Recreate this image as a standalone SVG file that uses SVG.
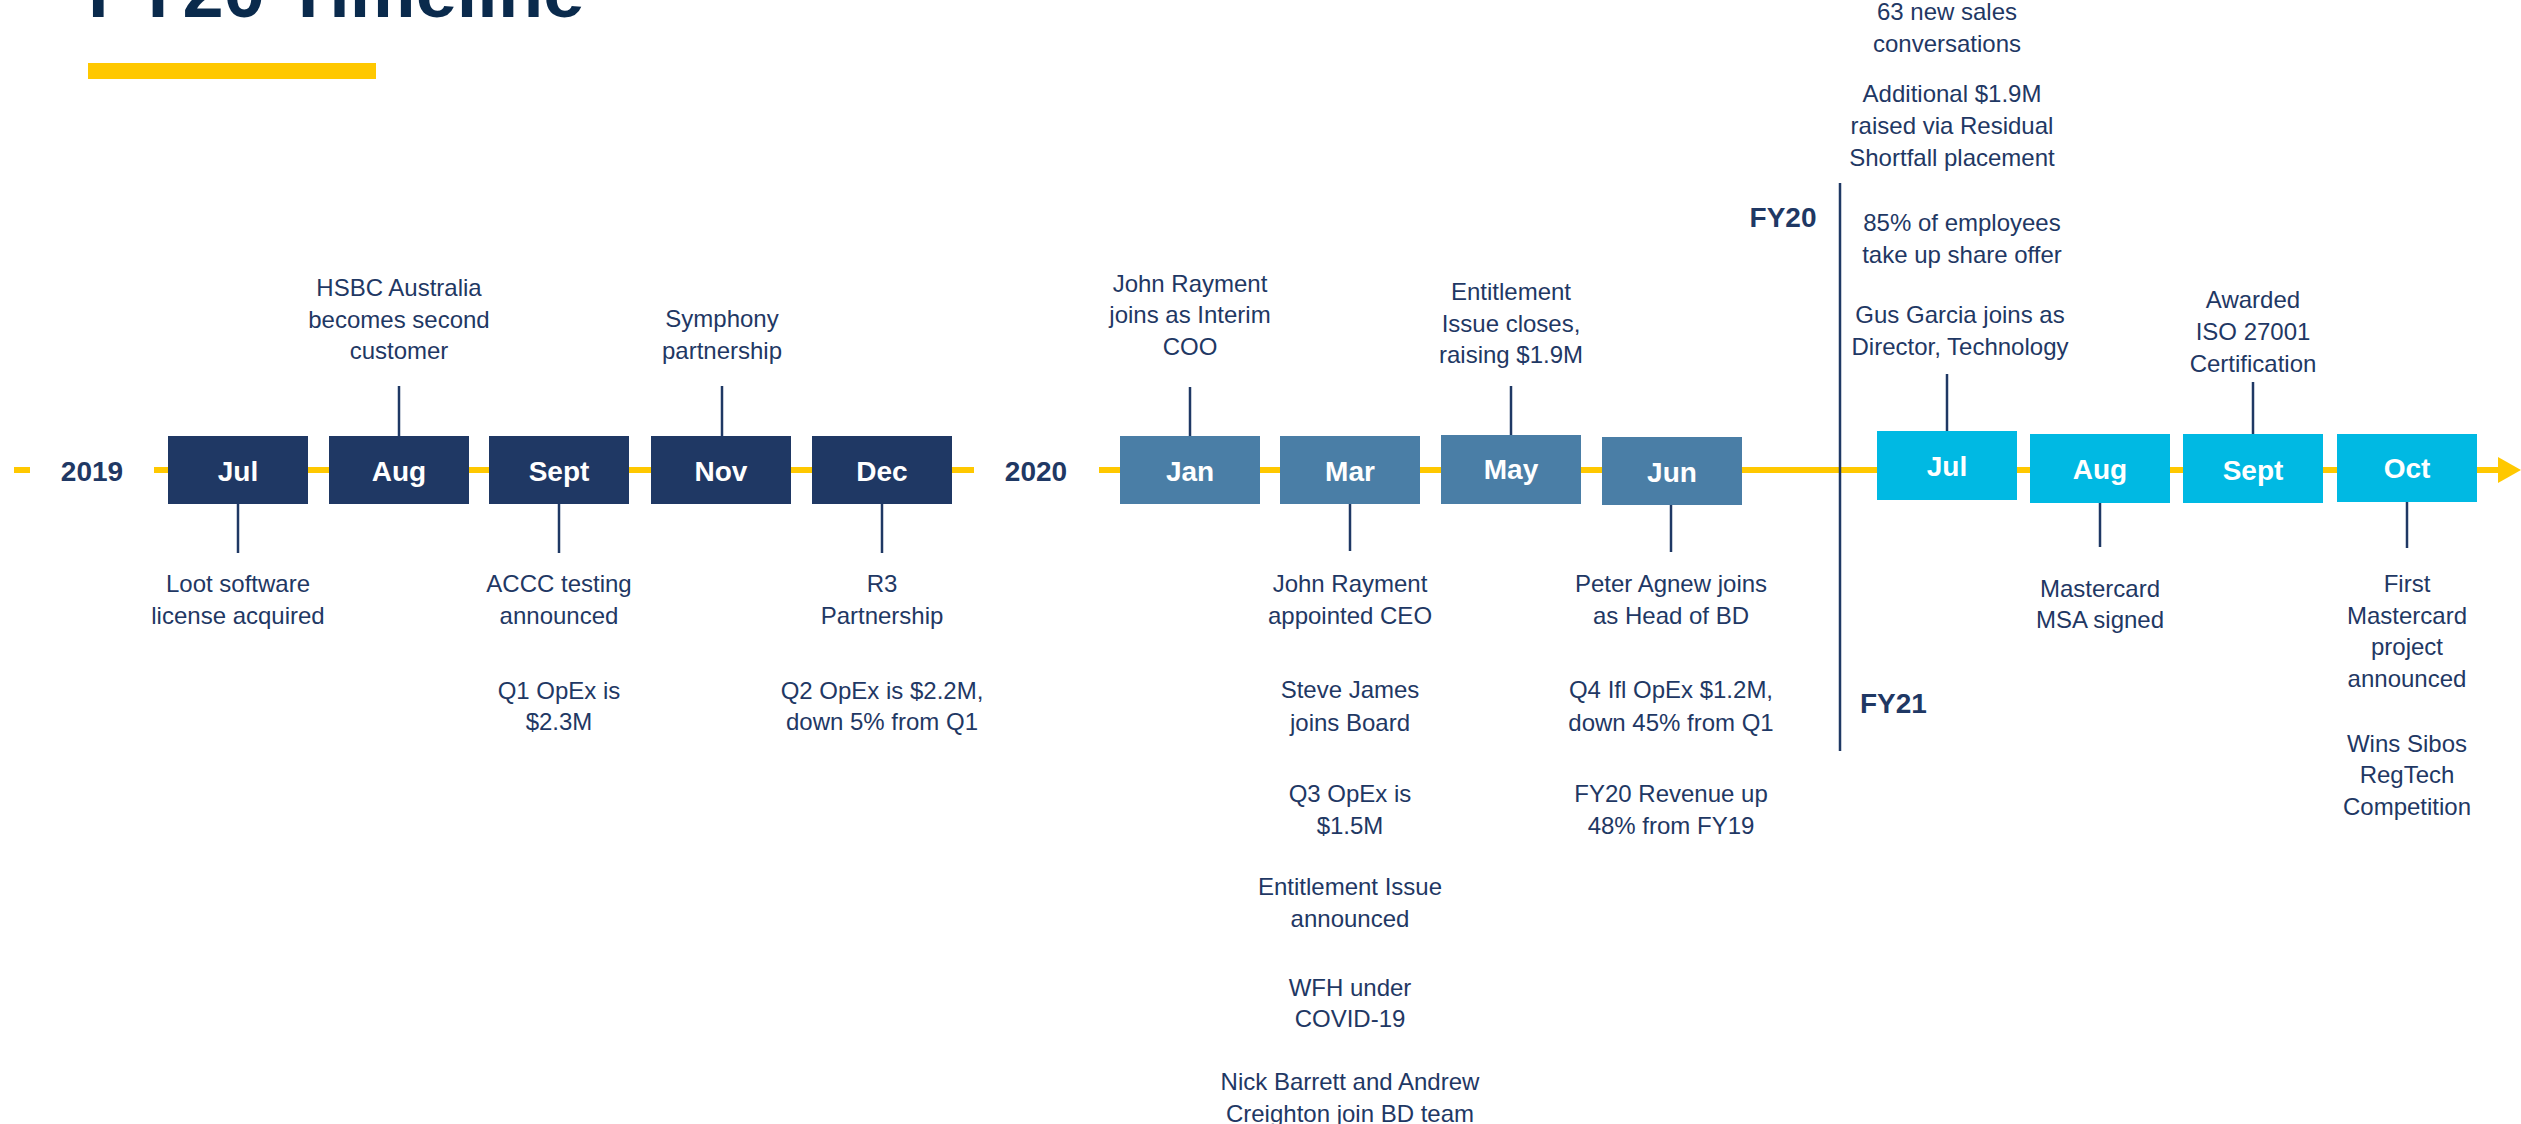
<svg xmlns="http://www.w3.org/2000/svg" width="2521" height="1124" viewBox="0 0 2521 1124">
<style>
.lbl{font-family:"Liberation Sans",Arial,sans-serif;font-size:24px;fill:#1F3864;text-anchor:middle}
.mon{font-family:"Liberation Sans",Arial,sans-serif;font-weight:bold;font-size:28px;fill:#FFFFFF;text-anchor:middle}
.yr{font-family:"Liberation Sans",Arial,sans-serif;font-weight:bold;font-size:28px;fill:#1F3864}
.b19{fill:#1F3864}
.b20{fill:#4A7EA6}
.b21{fill:#00B9E3}
.tick{stroke:#1F3864;stroke-width:2.5;fill:none}
.axis{stroke:#FFC800;stroke-width:6;fill:none}
</style>
<rect width="2521" height="1124" fill="#FFFFFF"/>
<g id="title">
<text x="88" y="17" font-family="'Liberation Sans',Arial,sans-serif" font-weight="bold" font-size="74" fill="#0A2A4C">FY20 Timeline</text>
<rect x="88" y="63" width="288" height="16" fill="#FFC800"/>
</g>
<g id="connectors">
<line class="axis" x1="14" y1="470" x2="30" y2="470"/>
<line class="axis" x1="154" y1="470" x2="974" y2="470"/>
<line class="axis" x1="1099" y1="470" x2="2500" y2="470"/>
<polygon points="2498,457 2521,470 2498,483" fill="#FFC800"/>
<line class="tick" x1="1840" y1="183" x2="1840" y2="751"/>
<line class="tick" x1="399" y1="386" x2="399" y2="436"/>
<line class="tick" x1="722" y1="386" x2="722" y2="436"/>
<line class="tick" x1="238" y1="504" x2="238" y2="553"/>
<line class="tick" x1="559" y1="504" x2="559" y2="553"/>
<line class="tick" x1="882" y1="504" x2="882" y2="553"/>
<line class="tick" x1="1190" y1="387" x2="1190" y2="436"/>
<line class="tick" x1="1511" y1="386" x2="1511" y2="435"/>
<line class="tick" x1="1350" y1="504" x2="1350" y2="551"/>
<line class="tick" x1="1671" y1="505" x2="1671" y2="552"/>
<line class="tick" x1="1947" y1="374" x2="1947" y2="431"/>
<line class="tick" x1="2253" y1="382" x2="2253" y2="434"/>
<line class="tick" x1="2100" y1="503" x2="2100" y2="547"/>
<line class="tick" x1="2407" y1="502" x2="2407" y2="548"/>
</g>
<g id="year-2019"><text class="yr" x="92" y="481" text-anchor="middle">2019</text></g>
<g id="year-2020"><text class="yr" x="1036" y="481" text-anchor="middle">2020</text></g>
<g id="fy20"><text class="yr" x="1783" y="227" text-anchor="middle">FY20</text></g>
<g id="fy21"><text class="yr" x="1860" y="713">FY21</text></g>

<g id="m-jul19"><rect class="b19" x="168" y="436" width="140" height="68"/><text class="mon" x="238" y="481">Jul</text></g>
<g id="m-aug19"><rect class="b19" x="329" y="436" width="140" height="68"/><text class="mon" x="399" y="481">Aug</text></g>
<g id="m-sep19"><rect class="b19" x="489" y="436" width="140" height="68"/><text class="mon" x="559" y="481">Sept</text></g>
<g id="m-nov19"><rect class="b19" x="651" y="436" width="140" height="68"/><text class="mon" x="721" y="481">Nov</text></g>
<g id="m-dec19"><rect class="b19" x="812" y="436" width="140" height="68"/><text class="mon" x="882" y="481">Dec</text></g>

<g id="m-jan20"><rect class="b20" x="1120" y="436" width="140" height="68"/><text class="mon" x="1190" y="481">Jan</text></g>
<g id="m-mar20"><rect class="b20" x="1280" y="436" width="140" height="68"/><text class="mon" x="1350" y="481">Mar</text></g>
<g id="m-may20"><rect class="b20" x="1441" y="435" width="140" height="69"/><text class="mon" x="1511" y="479">May</text></g>
<g id="m-jun20"><rect class="b20" x="1602" y="437" width="140" height="68"/><text class="mon" x="1672" y="482">Jun</text></g>

<g id="m-jul20"><rect class="b21" x="1877" y="431" width="140" height="69"/><text class="mon" x="1947" y="476">Jul</text></g>
<g id="m-aug20"><rect class="b21" x="2030" y="434" width="140" height="69"/><text class="mon" x="2100" y="479">Aug</text></g>
<g id="m-sep20"><rect class="b21" x="2183" y="434" width="140" height="69"/><text class="mon" x="2253" y="480">Sept</text></g>
<g id="m-oct20"><rect class="b21" x="2337" y="434" width="140" height="68"/><text class="mon" x="2407" y="478">Oct</text></g>

<g id="t-jul19"><text class="lbl" x="238" y="592">Loot software</text><text class="lbl" x="238" y="624">license acquired</text></g>
<g id="t-aug19"><text class="lbl" x="399" y="296">HSBC Australia</text><text class="lbl" x="399" y="328">becomes second</text><text class="lbl" x="399" y="359">customer</text></g>
<g id="t-sep19"><text class="lbl" x="559" y="592">ACCC testing</text><text class="lbl" x="559" y="624">announced</text><text class="lbl" x="559" y="699">Q1 OpEx is</text><text class="lbl" x="559" y="730">$2.3M</text></g>
<g id="t-nov19"><text class="lbl" x="722" y="327">Symphony</text><text class="lbl" x="722" y="359">partnership</text></g>
<g id="t-dec19"><text class="lbl" x="882" y="592">R3</text><text class="lbl" x="882" y="624">Partnership</text><text class="lbl" x="882" y="699">Q2 OpEx is $2.2M,</text><text class="lbl" x="882" y="730">down 5% from Q1</text></g>

<g id="t-jan20"><text class="lbl" x="1190" y="292">John Rayment</text><text class="lbl" x="1190" y="323">joins as Interim</text><text class="lbl" x="1190" y="355">COO</text></g>
<g id="t-may20"><text class="lbl" x="1511" y="300">Entitlement</text><text class="lbl" x="1511" y="332">Issue closes,</text><text class="lbl" x="1511" y="363">raising $1.9M</text></g>
<g id="t-mar20">
<text class="lbl" x="1350" y="592">John Rayment</text><text class="lbl" x="1350" y="624">appointed CEO</text>
<text class="lbl" x="1350" y="698">Steve James</text><text class="lbl" x="1350" y="731">joins Board</text>
<text class="lbl" x="1350" y="802">Q3 OpEx is</text><text class="lbl" x="1350" y="834">$1.5M</text>
<text class="lbl" x="1350" y="895">Entitlement Issue</text><text class="lbl" x="1350" y="927">announced</text>
<text class="lbl" x="1350" y="996">WFH under</text><text class="lbl" x="1350" y="1027">COVID-19</text>
<text class="lbl" x="1350" y="1090">Nick Barrett and Andrew</text><text class="lbl" x="1350" y="1122">Creighton join BD team</text>
</g>
<g id="t-jun20">
<text class="lbl" x="1671" y="592">Peter Agnew joins</text><text class="lbl" x="1671" y="624">as Head of BD</text>
<text class="lbl" x="1671" y="698">Q4 Ifl OpEx $1.2M,</text><text class="lbl" x="1671" y="731">down 45% from Q1</text>
<text class="lbl" x="1671" y="802">FY20 Revenue up</text><text class="lbl" x="1671" y="834">48% from FY19</text>
</g>
<g id="t-jul20">
<text class="lbl" x="1947" y="20">63 new sales</text><text class="lbl" x="1947" y="52">conversations</text>
<text class="lbl" x="1952" y="102">Additional $1.9M</text><text class="lbl" x="1952" y="134">raised via Residual</text><text class="lbl" x="1952" y="166">Shortfall placement</text>
<text class="lbl" x="1962" y="231">85% of employees</text><text class="lbl" x="1962" y="263">take up share offer</text>
<text class="lbl" x="1960" y="323">Gus Garcia joins as</text><text class="lbl" x="1960" y="355">Director, Technology</text>
</g>
<g id="t-sep20"><text class="lbl" x="2253" y="308">Awarded</text><text class="lbl" x="2253" y="340">ISO 27001</text><text class="lbl" x="2253" y="372">Certification</text></g>
<g id="t-aug20"><text class="lbl" x="2100" y="597">Mastercard</text><text class="lbl" x="2100" y="628">MSA signed</text></g>
<g id="t-oct20">
<text class="lbl" x="2407" y="592">First</text><text class="lbl" x="2407" y="624">Mastercard</text><text class="lbl" x="2407" y="655">project</text><text class="lbl" x="2407" y="687">announced</text>
<text class="lbl" x="2407" y="752">Wins Sibos</text><text class="lbl" x="2407" y="783">RegTech</text><text class="lbl" x="2407" y="815">Competition</text>
</g>
</svg>
